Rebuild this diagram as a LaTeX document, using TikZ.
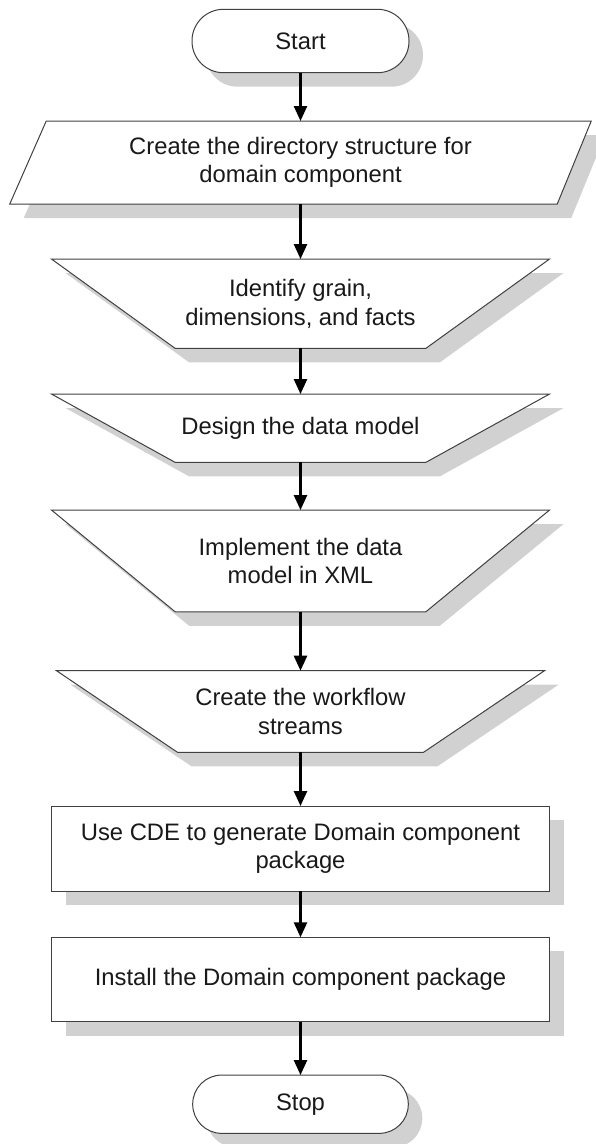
\documentclass[tikz,border=0pt]{standalone}
\usepackage{fontspec}
\setmainfont{Liberation Sans}
\usetikzlibrary{arrows.meta}
\pgfdeclarelayer{shadowlayer}
\pgfdeclarelayer{shapelayer}
\pgfsetlayers{shadowlayer,shapelayer,main}
\newcommand{\FShape}[1]{%
  \begin{pgfonlayer}{shadowlayer}\fill[shadowfill,transform canvas={xshift=14pt,yshift=-14pt}] #1;\end{pgfonlayer}%
  \begin{pgfonlayer}{shapelayer}\filldraw[shapeline] #1;\end{pgfonlayer}}
\begin{document}
\begin{tikzpicture}[x=1pt,y=-1pt,
  blk/.style={inner sep=0pt, outer sep=0pt, align=center, font=\fontsize{23.8}{28.5}\selectfont, text=black!90},
  shapeline/.style={draw=black!75, line width=1pt, fill=white, line join=miter},
  shadowfill/.style={fill=black!18},
  flowarrow/.style={line width=2.5pt, -{Triangle[length=15pt,width=13pt]}}]
\useasboundingbox (0,0) rectangle (596,1144);

\node[blk, minimum width=217pt, minimum height=63.4pt] (start) at (300.5,41) {Start};
\node[blk, minimum width=581.5pt, minimum height=83pt] (para) at (300.5,162.5) {Create the directory structure for\\domain component};
\node[blk, minimum width=498pt, minimum height=89.3pt] (t1) at (300.5,303.7) {Identify grain,\\dimensions, and facts};
\node[blk, minimum width=498pt, minimum height=68.3pt] (t2) at (300.5,428.2) {Design the data model};
\node[blk, minimum width=498pt, minimum height=101.7pt] (t3) at (300.5,560.9) {Implement the data\\model in XML};
\node[blk, minimum width=488pt, minimum height=81.6pt] (t4) at (300.5,711.5) {Create the workflow\\streams};
\node[blk, minimum width=498pt, minimum height=85pt] (r1) at (300.5,848.5) {Use CDE to generate Domain component\\package};
\node[blk, minimum width=498pt, minimum height=84.4pt] (r2) at (300.5,979.5) {Install the Domain component package};
\node[blk, minimum width=215.6pt, minimum height=58.3pt] (stop) at (300.5,1104.2) {Stop};

\FShape{[rounded corners=31.5pt] (start.north west) rectangle (start.south east)}
\FShape{([xshift=36.5pt]para.north west) -- (para.north east) -- ([xshift=-34pt]para.south east) -- (para.south west) -- cycle}
\FShape{(t1.north west) -- (t1.north east) -- ([xshift=-123.6pt]t1.south east) -- ([xshift=123.6pt]t1.south west) -- cycle}
\FShape{(t2.north west) -- (t2.north east) -- ([xshift=-123.6pt]t2.south east) -- ([xshift=123.6pt]t2.south west) -- cycle}
\FShape{(t3.north west) -- (t3.north east) -- ([xshift=-123.6pt]t3.south east) -- ([xshift=123.6pt]t3.south west) -- cycle}
\FShape{(t4.north west) -- (t4.north east) -- ([xshift=-121pt]t4.south east) -- ([xshift=121pt]t4.south west) -- cycle}
\FShape{(r1.north west) rectangle (r1.south east)}
\FShape{(r2.north west) rectangle (r2.south east)}
\FShape{[rounded corners=29pt] (stop.north west) rectangle (stop.south east)}

\draw[flowarrow] (start.south) -- (para.north);
\draw[flowarrow] (para.south) -- (t1.north);
\draw[flowarrow] (t1.south) -- (t2.north);
\draw[flowarrow] (t2.south) -- (t3.north);
\draw[flowarrow] (t3.south) -- (t4.north);
\draw[flowarrow] (t4.south) -- (r1.north);
\draw[flowarrow] (r1.south) -- (r2.north);
\draw[flowarrow] (r2.south) -- (stop.north);
\end{tikzpicture}
\end{document}
